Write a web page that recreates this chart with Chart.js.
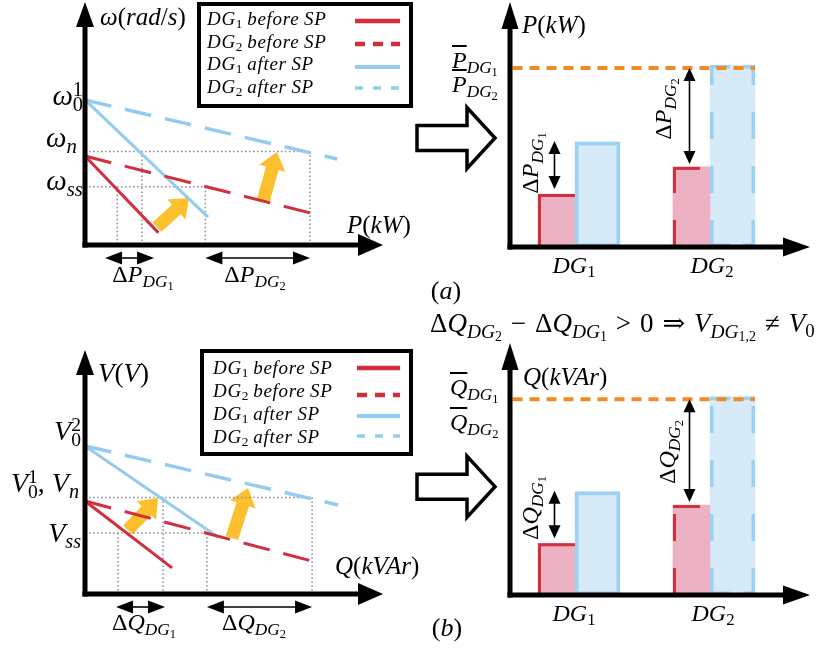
<!DOCTYPE html>
<html>
<head>
<meta charset="utf-8">
<title>Droop characteristics before / after secondary power</title>
<script src="https://cdn.jsdelivr.net/npm/chart.js@4.4.1/dist/chart.umd.min.js"></script>
<style>
html,body{margin:0;padding:0;background:#fff;}
#stage{position:relative;width:817px;height:649px;overflow:hidden;background:#fff;}
#stage canvas{position:absolute;left:0;top:0;}
.t{position:absolute;font-family:"Liberation Serif","Times New Roman","DejaVu Serif",serif;white-space:nowrap;line-height:1;color:#000;}
.t i{font-style:italic;}
.sb{font-size:72%;position:relative;top:0.3em;font-style:italic;}
.sb .n{font-size:72%;position:relative;top:0.2em;font-style:normal;}
.dn{font-size:70%;position:relative;top:0.25em;font-style:normal;}
.sp{font-size:70%;position:relative;top:-0.45em;font-style:normal;}
.lo{font-size:70%;position:relative;top:0.32em;font-style:normal;margin-left:-0.5em;}
.ov{text-decoration:overline;text-decoration-thickness:1.6px;}
.lg i{letter-spacing:0.7px;}
.op{margin:0 0.33em;}
.legend{position:absolute;border:4px solid #000;box-sizing:border-box;}
svg.ls{position:absolute;left:0;top:0;overflow:visible;}
</style>
</head>
<body>
<div id="stage"></div>
<script>
// ================= DATA (arbitrary units 0..10) =================
const seriesNames = ['DG1 before SP', 'DG2 before SP', 'DG1 after SP', 'DG2 after SP'];

// (a) P–ω droop lines: each line starts at P = 0 (ω intercept) and ends at (P, ω)
const omegaIntercept = [3.66, 3.66, 5.97, 5.97];
const pLineEnd       = [2.46, 7.55, 4.13, 8.46];
const omegaLineEnd   = [0.51, 1.32, 1.15, 3.54];
const omegaRef       = [3.85, 2.40];   // ω_n, ω_ss
const pAtOmegaSS     = [1.08, 4.04];   // DG1, DG2 operating point at ω_ss
const pAtOmegaN      = [1.91, 7.55];   // DG1, DG2 operating point at ω_n
const pShiftFrom     = [2.42, 5.97];   // yellow shift arrows (start / end)
const omegaShiftFrom = [0.74, 1.77];
const pShiftTo       = [3.49, 6.44];
const omegaShiftTo   = [1.93, 3.83];

// (b) Q–V droop lines
const vIntercept     = [3.81, 3.81, 6.07, 6.07];
const qLineEnd       = [2.92, 7.62, 4.46, 8.49];
const vLineEnd       = [1.07, 1.35, 2.34, 3.65];
const vRef           = [3.95, 2.50];   // V_n, V_ss
const qAtVSS         = [1.11, 4.09];
const qAtVN          = [2.62, 7.62];
const qShiftFrom     = [1.44, 4.93];
const vShiftFrom     = [2.62, 2.30];
const qShiftTo       = [2.45, 5.47];
const vShiftTo       = [3.93, 4.34];

// bar charts
const dgCategories = ['DG1', 'DG2'];
const pBeforeSP = [2.16, 3.27];
const pAfterSP  = [4.29, 7.43];
const pRated    = 7.31;
const qBeforeSP = [2.05, 3.57];
const qAfterSP  = [4.10, 7.87];
const qRated    = 7.77;

// ================= STYLE =================
const RED = '#d12e3e', BLUE = '#93ccee', PINK = '#ecb1c2', LBLUE = '#d7eaf7',
      BBLUE = '#9bd1f1', YEL = '#fcbf2d', ORG = '#ef8a27', GUIDE = '#8d8d8d';
const W = 817, H = 649;
const stage = document.getElementById('stage');

function makeCanvas() {
  const c = document.createElement('canvas');
  c.width = W; c.height = H;
  stage.appendChild(c);
  return c;
}
function pad(a) { return {left: a.L, top: a.T, right: W - a.R, bottom: H - a.B}; }

function seg(ctx, x1, y1, x2, y2) { ctx.beginPath(); ctx.moveTo(x1, y1); ctx.lineTo(x2, y2); ctx.stroke(); }

function fatArrow(ctx, x1, y1, x2, y2, sw, hw, hl, fill, stroke, lw) {
  const dx = x2 - x1, dy = y2 - y1, L = Math.hypot(dx, dy), ux = dx / L, uy = dy / L, nx = -uy, ny = ux;
  const kx = x2 - ux * hl, ky = y2 - uy * hl;
  ctx.beginPath();
  ctx.moveTo(x1 + nx * sw / 2, y1 + ny * sw / 2);
  ctx.lineTo(kx + nx * sw / 2, ky + ny * sw / 2);
  ctx.lineTo(kx + nx * hw / 2, ky + ny * hw / 2);
  ctx.lineTo(x2, y2);
  ctx.lineTo(kx - nx * hw / 2, ky - ny * hw / 2);
  ctx.lineTo(kx - nx * sw / 2, ky - ny * sw / 2);
  ctx.lineTo(x1 - nx * sw / 2, y1 - ny * sw / 2);
  ctx.closePath();
  if (fill) { ctx.fillStyle = fill; ctx.fill(); }
  if (stroke) { ctx.setLineDash([]); ctx.strokeStyle = stroke; ctx.lineWidth = lw; ctx.lineJoin = 'miter'; ctx.stroke(); }
}
function head(ctx, tx, ty, ux, uy, hl, hw) {
  const nx = -uy, ny = ux;
  ctx.beginPath();
  ctx.moveTo(tx, ty);
  ctx.lineTo(tx - ux * hl + nx * hw, ty - uy * hl + ny * hw);
  ctx.lineTo(tx - ux * hl - nx * hw, ty - uy * hl - ny * hw);
  ctx.closePath(); ctx.fill();
}
function doubleArrow(ctx, x1, y1, x2, y2, hl, hw, lw) {
  const dx = x2 - x1, dy = y2 - y1, L = Math.hypot(dx, dy), ux = dx / L, uy = dy / L;
  ctx.save();
  ctx.setLineDash([]);
  ctx.strokeStyle = '#000'; ctx.fillStyle = '#000'; ctx.lineWidth = lw;
  seg(ctx, x1 + ux * hl * 0.7, y1 + uy * hl * 0.7, x2 - ux * hl * 0.7, y2 - uy * hl * 0.7);
  head(ctx, x2, y2, ux, uy, hl, hw);
  head(ctx, x1, y1, -ux, -uy, hl, hw);
  ctx.restore();
}
function drawAxes(chart, o) {
  const {ctx, chartArea: a} = chart;
  const x0 = a.left + o.dx, y0 = a.bottom, xTip = a.right + o.xExt;
  ctx.save();
  ctx.setLineDash([]);
  ctx.strokeStyle = '#000'; ctx.fillStyle = '#000'; ctx.lineWidth = 5; ctx.lineCap = 'butt';
  seg(ctx, x0, y0 + 2.5, x0, a.top + o.hl - 2);
  seg(ctx, x0 - 2.5, y0, xTip - o.hl + 2, y0);
  head(ctx, x0, a.top, 0, -1, o.hl, o.hwY);
  head(ctx, xTip, y0, 1, 0, o.hl, o.hwX);
  ctx.restore();
}

// ================= DROOP CHARTS =================
function buildDroop(area, d) {
  const cv = makeCanvas();
  const styles = [
    {c: RED, dash: [], w: 3},
    {c: RED, dash: [27, 14], w: 3},
    {c: BLUE, dash: [], w: 3},
    {c: BLUE, dash: [27, 14], w: 3.5}
  ];
  const ds = seriesNames.map((name, i) => ({
    label: name,
    data: [{x: 0, y: d.y0[i]}, {x: d.x1[i], y: d.y1[i]}],
    borderColor: styles[i].c, borderWidth: styles[i].w, borderDash: styles[i].dash, order: 1
  }));
  const g = pts => ({label: 'guide', data: pts, borderColor: GUIDE, borderWidth: 1.5, borderDash: [1.5, 2.5], order: 3});
  ds.push(g([{x: 0, y: d.ref[0]}, {x: d.atN[1], y: d.ref[0]}]));
  ds.push(g([{x: 0, y: d.ref[1]}, {x: d.atSS[1], y: d.ref[1]}]));
  d.atSS.forEach(v => ds.push(g([{x: v, y: d.ref[1]}, {x: v, y: 0}])));
  d.atN.forEach(v => ds.push(g([{x: v, y: d.ref[0]}, {x: v, y: 0}])));
  ds.forEach(s => { s.showLine = true; s.pointRadius = 0; s.fill = false; s.clip = false; s.borderCapStyle = 'butt'; s.tension = 0; });

  new Chart(cv, {
    type: 'scatter',
    data: {datasets: ds},
    options: {
      responsive: false, animation: false, events: [],
      layout: {padding: pad(area)},
      plugins: {legend: {display: false}, tooltip: {enabled: false}},
      scales: {
        x: {type: 'linear', min: 0, max: 10, display: false},
        y: {type: 'linear', min: 0, max: 10, display: false}
      }
    },
    plugins: [{
      id: 'droopDeco',
      beforeDatasetsDraw(chart) {
        const ctx = chart.ctx, xs = chart.scales.x, ys = chart.scales.y;
        ctx.save();
        for (let i = 0; i < d.sx0.length; i++) {
          fatArrow(ctx, xs.getPixelForValue(d.sx0[i]), ys.getPixelForValue(d.sy0[i]),
                   xs.getPixelForValue(d.sx1[i]), ys.getPixelForValue(d.sy1[i]), 13, 27, 17, YEL);
        }
        ctx.restore();
      },
      afterDatasetsDraw(chart) {
        const ctx = chart.ctx, xs = chart.scales.x, a = chart.chartArea;
        drawAxes(chart, {dx: 0, xExt: 0, hl: 25, hwY: 9, hwX: 11});
        const y = a.bottom + 13;
        for (let i = 0; i < 2; i++) {
          let xa = xs.getPixelForValue(d.atSS[i]), xb = xs.getPixelForValue(d.atN[i]);
          const minSpan = 49;
          if (xb - xa < minSpan) { const e = (minSpan - (xb - xa)) / 2; xa -= e; xb += e; }
          doubleArrow(ctx, xa, y, xb, y, 17, 6.5, 1.6);
        }
      }
    }]
  });
}

// ================= BAR CHARTS =================
function buildBars(area, before, after, rated, arrowFrac) {
  const cv = makeCanvas();
  new Chart(cv, {
    type: 'bar',
    data: {
      labels: dgCategories,
      datasets: [
        {label: 'before SP', data: before, backgroundColor: PINK, borderWidth: 0, barThickness: 37},
        {label: 'after SP', data: after, backgroundColor: LBLUE, borderWidth: 0, barThickness: 45}
      ]
    },
    options: {
      responsive: false, animation: false, events: [],
      layout: {padding: pad(area)},
      plugins: {legend: {display: false}, tooltip: {enabled: false}},
      scales: {
        x: {type: 'category', display: false, offset: true},
        y: {type: 'linear', min: 0, max: 10, display: false}
      }
    },
    plugins: [{
      id: 'barDeco',
      afterDatasetsDraw(chart) {
        const ctx = chart.ctx, a = chart.chartArea, ys = chart.scales.y;
        const red = chart.getDatasetMeta(0).data.map(e => e.getProps(['x', 'y', 'base', 'width'], true));
        const blu = chart.getDatasetMeta(1).data.map(e => e.getProps(['x', 'y', 'base', 'width'], true));
        ctx.save();
        ctx.lineCap = 'butt'; ctx.lineJoin = 'miter';
        // "before" bars: left + top border
        red.forEach((b, i) => {
          const lw = 3, l = b.x - b.width / 2 + lw / 2, r = b.x + b.width / 2, t = b.y + lw / 2;
          ctx.strokeStyle = RED; ctx.lineWidth = lw;
          if (i === 0) {
            ctx.setLineDash([]);
            ctx.beginPath(); ctx.moveTo(l, b.base); ctx.lineTo(l, t); ctx.lineTo(r, t); ctx.stroke();
          } else {
            ctx.setLineDash([27, 27]);
            seg(ctx, l, b.base, l, t - lw / 2);
            seg(ctx, l - lw / 2, t, r, t);
          }
        });
        // "after" bars: full border
        blu.forEach((b, i) => {
          const lw = 3.5, l = b.x - b.width / 2 + lw / 2, r = b.x + b.width / 2 - lw / 2, t = b.y + lw / 2, bt = b.base - lw / 2;
          ctx.strokeStyle = BBLUE; ctx.lineWidth = lw;
          if (i === 0) {
            ctx.setLineDash([]);
            ctx.strokeRect(l, t, r - l, bt - t);
          } else {
            ctx.setLineDash([27, 27]);
            seg(ctx, l, b.base, l, b.y);
            seg(ctx, r, b.base, r, b.y);
            ctx.setLineDash([20, 13]);
            seg(ctx, l - lw / 2, t, r + lw / 2, t);
            seg(ctx, l - lw / 2, bt, r + lw / 2, bt);
          }
        });
        // rated-power dashed line
        const yr = ys.getPixelForValue(rated);
        ctx.strokeStyle = ORG; ctx.lineWidth = 4; ctx.setLineDash([10, 7]);
        seg(ctx, a.left + 5, yr, blu[1].x + blu[1].width / 2, yr);
        ctx.restore();

        drawAxes(chart, {dx: 2.5, xExt: 32.5, hl: 27, hwY: 8.5, hwX: 9.5});

        // delta arrows
        doubleArrow(ctx, red[0].x - 2, ys.getPixelForValue(after[0]) - 1, red[0].x - 2, red[0].y - 5, 13, 6, 1.6);
        doubleArrow(ctx, red[1].x - 2, yr, red[1].x - 2, red[1].y - 3, 13, 6, 1.6);

        // hollow "implies" arrow on the left
        ctx.save();
        const ya = a.bottom - arrowFrac * (a.bottom - a.top);
        fatArrow(ctx, a.left - 90.5, ya, a.left - 12.5, ya, 25, 61, 28, '#fff', '#000', 3.5);
        ctx.restore();
      }
    }]
  });
}

buildDroop({L: 85, T: 2, R: 383, B: 245}, {
  y0: omegaIntercept, x1: pLineEnd, y1: omegaLineEnd, ref: omegaRef, atSS: pAtOmegaSS, atN: pAtOmegaN,
  sx0: pShiftFrom, sy0: omegaShiftFrom, sx1: pShiftTo, sy1: omegaShiftTo
});
buildDroop({L: 85, T: 350, R: 383, B: 594}, {
  y0: vIntercept, x1: qLineEnd, y1: vLineEnd, ref: vRef, atSS: qAtVSS, atN: qAtVN,
  sx0: qShiftFrom, sy0: vShiftFrom, sx1: qShiftTo, sy1: vShiftTo
});
buildBars({L: 507.5, T: 2, R: 777.5, B: 247}, pBeforeSP, pAfterSP, pRated, 0.445);
buildBars({L: 507.5, T: 343, R: 777.5, B: 595}, qBeforeSP, qAfterSP, qRated, 0.43);

// ================= TEXT =================
function addText(html, x, y, size, align, rot) {
  const d = document.createElement('div');
  d.className = 't';
  d.innerHTML = html;
  d.style.fontSize = size + 'px';
  d.style.left = x + 'px';
  if (rot) {
    d.style.top = y + 'px';
    d.style.transform = 'translate(-50%,-50%) rotate(' + rot + 'deg)';
  } else {
    d.style.top = (y - 0.8375 * size) + 'px';
    const tx = align === 'c' ? '-50%' : align === 'r' ? '-100%' : '0';
    d.style.transform = 'translateX(' + tx + ')';
  }
  stage.appendChild(d);
  return d;
}
const sub = (sym, n) => sym + '<span class="sb">DG<span class="n">' + n + '</span></span>';
const dg = n => '<i>DG</i><span class="dn">' + n + '</span>';

// legends
function addLegend(box, textX, baselines, x1, x2, lineYs) {
  const b = document.createElement('div');
  b.className = 'legend';
  Object.assign(b.style, {left: box[0] + 'px', top: box[1] + 'px', width: box[2] + 'px', height: box[3] + 'px'});
  stage.appendChild(b);
  const words = ['<i>before</i> <i>SP</i>', '<i>before</i> <i>SP</i>', '<i>after</i> <i>SP</i>', '<i>after</i> <i>SP</i>'];
  seriesNames.forEach((n, i) => {
    const t = addText(dg(i % 2 + 1) + ' ' + words[i], box[0] + textX, box[1] + baselines[i], 19, 'l');
    t.classList.add('lg');
  });
  const st = [
    {c: RED, w: 4.5, d: ''}, {c: RED, w: 4.5, d: '10 8'}, {c: BLUE, w: 4, d: ''}, {c: BLUE, w: 3.5, d: '8 10'}
  ];
  let s = '<svg class="ls" width="' + W + '" height="' + H + '">';
  st.forEach((o, i) => {
    s += '<line x1="' + x1 + '" x2="' + x2 + '" y1="' + lineYs[i] + '" y2="' + lineYs[i] +
         '" stroke="' + o.c + '" stroke-width="' + o.w + '"' + (o.d ? ' stroke-dasharray="' + o.d + '"' : '') + '/>';
  });
  s += '</svg>';
  const holder = document.createElement('div');
  holder.innerHTML = s;
  stage.appendChild(holder.firstChild);
}
addLegend([197, 2, 216, 106], 10, [23, 46, 68, 91], 355, 400, [21, 44, 67, 88]);
addLegend([200, 349, 213, 107], 13, [25, 48, 71, 94], 357, 400, [368, 395, 416, 436]);

// (a) P–ω
addText('<i>ω</i>(<i>rad</i>/<i>s</i>)', 100, 25, 25, 'l');
addText('<i>P</i>(<i>kW</i>)', 347, 233, 25, 'l');
addText('<i>ω</i><span class="sp">1</span><span class="lo">0</span>', 83, 105, 29, 'r');
addText('<i>ω</i><span class="sb">n</span>', 77, 147, 29, 'r');
addText('<i>ω</i><span class="sb">ss</span>', 83, 190, 29, 'r');
addText('Δ' + sub('<i>P</i>', 1), 143, 282, 24, 'c');
addText('Δ' + sub('<i>P</i>', 2), 255, 282, 24, 'c');
// bar (a)
addText('<i>P</i>(<i>kW</i>)', 522, 33, 25, 'l');
addText('<i class="ov">P</i>' + '<span class="sb">DG<span class="n">1</span></span>', 452, 68, 24, 'l');
addText('<i class="ov">P</i>' + '<span class="sb">DG<span class="n">2</span></span>', 452, 92, 24, 'l');
addText('Δ' + sub('<i>P</i>', 1), 530, 163, 24, 'c', -90);
addText('Δ' + sub('<i>P</i>', 2), 663, 109, 24, 'c', -90);
addText(dg(1), 574, 273, 24, 'c');
addText(dg(2), 712, 273, 24, 'c');
addText('(<i>a</i>)', 446, 300, 26, 'c');

// (b) Q–V
addText('<i>V</i>(<i>V</i>)', 98, 383, 27, 'l');
addText('<i>Q</i>(<i>kVAr</i>)', 335, 574, 25, 'l');
addText('<i>V</i><span class="sp">2</span><span class="lo">0</span>', 81, 440, 28, 'r');
addText('<i>V</i><span class="sp">1</span><span class="lo">0</span>, <i>V</i><span class="sb">n</span>', 79, 492, 28, 'r');
addText('<i>V</i><span class="sb">ss</span>', 81, 542, 28, 'r');
addText('Δ' + sub('<i>Q</i>', 1), 144, 630, 24, 'c');
addText('Δ' + sub('<i>Q</i>', 2), 254, 630, 24, 'c');
// bar (b)
addText('Δ' + sub('<i>Q</i>', 2) + '<span class="op">−</span>Δ' + sub('<i>Q</i>', 1) +
        '<span class="op">&gt;</span>0<span class="op">⇒</span><i>V</i><span class="sb">DG<span class="n">1,2</span></span>' +
        '<span class="op">≠</span><i>V</i><span class="dn">0</span>', 430, 333, 27, 'l');
addText('<i>Q</i>(<i>kVAr</i>)', 523, 385, 25, 'l');
addText('<i class="ov">Q</i>' + '<span class="sb">DG<span class="n">1</span></span>', 450, 395, 24, 'l');
addText('<i class="ov">Q</i>' + '<span class="sb">DG<span class="n">2</span></span>', 450, 430, 24, 'l');
addText('Δ' + sub('<i>Q</i>', 1), 530, 508, 24, 'c', -90);
addText('Δ' + sub('<i>Q</i>', 2), 667, 452, 24, 'c', -90);
addText(dg(1), 574, 621, 24, 'c');
addText(dg(2), 713, 621, 24, 'c');
addText('(<i>b</i>)', 447, 637, 26, 'c');
</script>
</body>
</html>
